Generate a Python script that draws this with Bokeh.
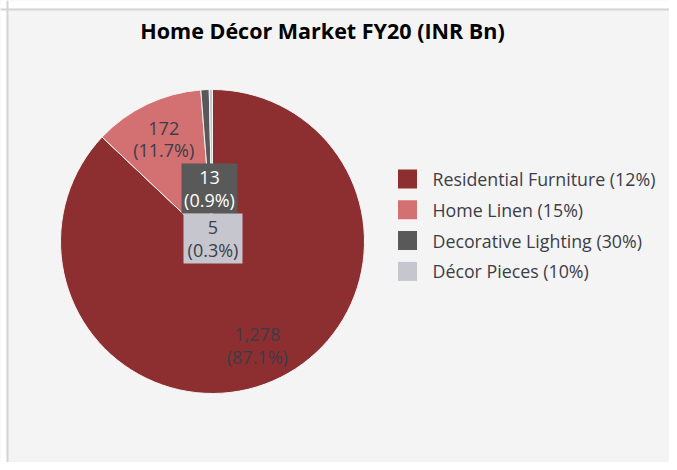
import math
from bokeh.plotting import figure
from bokeh.models import Range1d, Span, ColumnDataSource
from bokeh.core.properties import value
from bokeh.embed import file_html
from bokeh.resources import INLINE

# ---- data ----
title = "Home Décor Market FY20 (INR Bn)"
categories = ["Residential Furniture", "Home Linen", "Decorative Lighting", "Décor Pieces"]
growth = ["12%", "15%", "30%", "10%"]
values = [1278, 172, 13, 5]
colors = ["#8d2e31", "#d27072", "#595959", "#c5c6ce"]

# ---- layout ----
W, H = 669, 462
FONT = "Open Sans"
cx, cy, R = 212, 221, 152
LBL = "18px"

p = figure(width=W, height=H, x_range=Range1d(0, W), y_range=Range1d(0, H),
           output_backend="svg", toolbar_location=None, min_border=0)
p.axis.visible = False
p.grid.visible = False
p.outline_line_color = None
p.background_fill_color = "#f4f4f4"
p.border_fill_color = "#ffffff"

# white page margin (left / top) and panel border
p.quad(left=0, right=6, bottom=0, top=H, fill_color="#ffffff", line_color=None)
p.quad(left=0, right=W, bottom=H - 8, top=H, fill_color="#ffffff", line_color=None)
p.add_layout(Span(location=7, dimension="height", line_color="#d4d4d4", line_width=2))
p.add_layout(Span(location=H - 9, dimension="width", line_color="#d4d4d4", line_width=2))

total = sum(values)
starts, ends, mids, pcts = [], [], [], []
cum = 0
for v in values:
    a0 = math.pi / 2 - 2 * math.pi * cum / total
    cum += v
    a1 = math.pi / 2 - 2 * math.pi * cum / total
    starts.append(a0)
    ends.append(a1)
    mids.append((a0 + a1) / 2)
    pcts.append(100 * v / total)

src = ColumnDataSource(dict(start=starts, end=ends, color=colors))
p.wedge(x=cx, y=cy, radius=R, start_angle="start", end_angle="end", direction="clock",
        fill_color="color", line_color="#f4f4f4", line_width=1, source=src)

vlabels = [f"{v:,}" for v in values]
plabels = [f"({q:.1f}%)" for q in pcts]

# labels for large slices, along mid angle
for i in (0, 1):
    d = 0.745 * R
    lx = cx + d * math.cos(mids[i])
    ly = cy + d * math.sin(mids[i])
    p.text(x=[lx], y=[ly], text=[vlabels[i]], text_font=value(FONT), text_font_size=LBL,
           text_color="#3d3d47", text_align="center", text_baseline="middle", y_offset=-11)
    p.text(x=[lx], y=[ly], text=[plabels[i]], text_font=value(FONT), text_font_size=LBL,
           text_color="#3d3d47", text_align="center", text_baseline="middle", y_offset=11)

# boxed labels for small slices
boxes = {2: (cx - 3, cy + 53, 56, 50, "#ffffff"), 3: (cx + 0.5, cy + 3, 59, 50, "#3d3d47")}
for i, (bx, by, bw, bh, tc) in boxes.items():
    p.rect(x=[bx], y=[by], width=bw, height=bh, fill_color=colors[i], line_color=None)
    p.text(x=[bx], y=[by], text=[vlabels[i]], text_font=value(FONT), text_font_size=LBL,
           text_color=tc, text_align="center", text_baseline="middle", y_offset=-11)
    p.text(x=[bx], y=[by], text=[plabels[i]], text_font=value(FONT), text_font_size=LBL,
           text_color=tc, text_align="center", text_baseline="middle", y_offset=11)

# legend
lg_x, lg_y0, lg_dy = 407, 283.5, 30.8
ly = [lg_y0 - k * lg_dy for k in range(len(categories))]
p.rect(x=[lg_x] * len(categories), y=ly, width=19, height=19, fill_color=colors, line_color=None)
p.text(x=[lg_x + 25] * len(categories), y=ly,
       text=[f"{c} ({g})" for c, g in zip(categories, growth)],
       text_font=value(FONT), text_font_size="17.8px", text_color="#3d3d47",
       text_align="left", text_baseline="middle")

# title
p.text(x=[322], y=[432], text=[title], text_font=value(FONT), text_font_size="21.5px",
       text_font_style="bold", text_color="#000000", text_align="center", text_baseline="middle")

open("out.html", "w").write(file_html(p, INLINE))
